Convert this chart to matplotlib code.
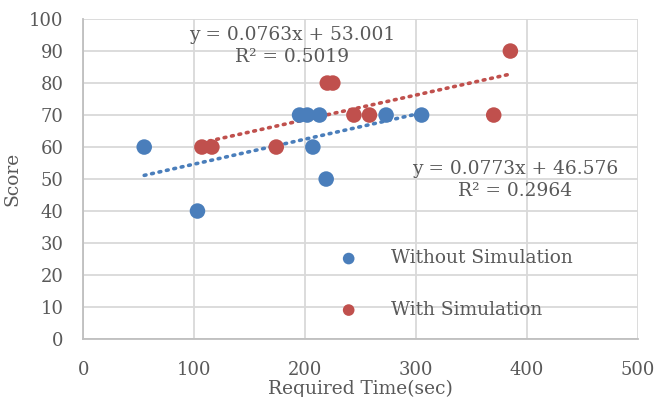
import numpy as np
import matplotlib.pyplot as plt

# values
without_time = [55, 103, 195, 202, 213, 207, 219, 273, 305]
without_score = [60, 40, 70, 70, 70, 60, 50, 70, 70]
with_time = [107, 116, 174, 220, 225, 244, 258, 370, 385]
with_score = [60, 60, 60, 80, 80, 70, 70, 70, 90]

series_names = ['Without Simulation', 'With Simulation']
fit_labels = ['y = 0.0773x + 46.576\nR² = 0.2964',
              'y = 0.0763x + 53.001\nR² = 0.5019']

blue = '#4a7ebb'
red = '#c0504d'
grey = '#595959'
fs = 13.4

plt.rcParams['font.family'] = ['DejaVu Serif']

fig = plt.figure(figsize=(6.55, 3.97), dpi=100)
ax = fig.add_axes([0.127, 0.146, 0.847, 0.806])

for xs, ys, col, name in [(without_time, without_score, blue, series_names[0]),
                          (with_time, with_score, red, series_names[1])]:
    ax.scatter(xs, ys, s=125, color=col, label=name, zorder=3,
               edgecolors='none')
    k, b = np.polyfit(xs, ys, 1)
    xx = np.array([min(xs), max(xs)])
    ax.plot(xx, k * xx + b, color=col, linestyle=(0, (0.5, 1.6)),
            linewidth=2.6, dash_capstyle='round', zorder=2)

ax.text(389, 49.6, fit_labels[0], ha='center', va='center',
        fontsize=fs, color=grey, linespacing=1.3)
ax.text(188, 91.7, fit_labels[1], ha='center', va='center',
        fontsize=fs, color=grey, linespacing=1.3)

ax.set_xlim(0, 500)
ax.set_ylim(0, 100)
ax.set_xticks(range(0, 501, 100))
ax.set_yticks(range(0, 101, 10))
ax.grid(True, color='#d9d9d9', linewidth=1.3)
ax.set_axisbelow(True)
for side in ['top', 'right']:
    ax.spines[side].set_visible(False)
for side in ['left', 'bottom']:
    ax.spines[side].set_color('#bfbfbf')
    ax.spines[side].set_linewidth(1.3)
ax.tick_params(axis='x', length=0, labelsize=13, colors=grey, pad=15.5)
ax.tick_params(axis='y', length=0, labelsize=13, colors=grey, pad=14)

ax.set_xlabel('Required Time(sec)', fontsize=fs, color=grey)
ax.xaxis.set_label_coords(0.5, -0.126)
ax.set_ylabel('Score', fontsize=fs, color=grey, labelpad=6)

ax.legend(loc='upper left', bbox_to_anchor=(0.445, 0.28), frameon=False,
          fontsize=fs, labelcolor=grey, markerscale=0.75, borderpad=0,
          borderaxespad=0, handletextpad=1.25, labelspacing=1.8)

fig.savefig('out.png', dpi=100)
